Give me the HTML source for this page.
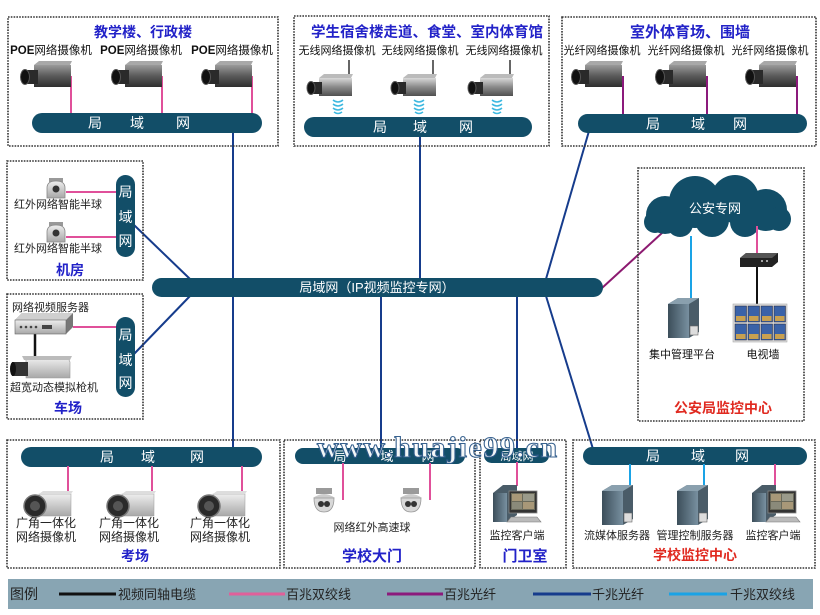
<!DOCTYPE html>
<html><head><meta charset="utf-8"><style>
html,body{margin:0;padding:0;background:#fff;}
svg{display:block;}
text{font-family:"Liberation Sans","Noto Sans CJK SC",sans-serif;}
.t{font-size:15px;font-weight:bold;fill:#2222c8;text-anchor:middle;}
.r{font-size:14px;font-weight:bold;fill:#e02a20;text-anchor:middle;}
.l{font-size:11px;fill:#222;text-anchor:middle;}
.lb{font-size:11px;fill:#111;text-anchor:middle;}
.p{font-size:14px;fill:#fff;text-anchor:middle;}
.box{fill:none;stroke:#333;stroke-width:1.6;stroke-dasharray:1.6 1.2;}
.lg{font-size:13px;fill:#222;}
</style></head><body>
<svg width="820" height="615" viewBox="0 0 820 615" xmlns="http://www.w3.org/2000/svg">
<defs>
<linearGradient id="gD" x1="0" y1="0" x2="0" y2="1"><stop offset="0" stop-color="#9a9a9a"/><stop offset="0.5" stop-color="#5a5a5a"/><stop offset="1" stop-color="#2e2e2e"/></linearGradient>
<linearGradient id="gS" x1="0" y1="0" x2="0" y2="1"><stop offset="0" stop-color="#d8d8d8"/><stop offset="0.5" stop-color="#8a8a8a"/><stop offset="1" stop-color="#505050"/></linearGradient>
<linearGradient id="gL" x1="0" y1="0" x2="0" y2="1"><stop offset="0" stop-color="#eeeeee"/><stop offset="1" stop-color="#a8a8a8"/></linearGradient>
<linearGradient id="gT" x1="0" y1="0" x2="1" y2="0"><stop offset="0" stop-color="#3c4e5a"/><stop offset="1" stop-color="#7890a0"/></linearGradient>
<g id="boxcam">
 <polygon points="15,4 20,0 53,0 51,4" fill="#a8a8a8"/>
 <rect x="15" y="4" width="37" height="22" fill="url(#gD)"/>
 <rect x="5" y="9" width="14" height="14" fill="#2a2a2a"/>
 <ellipse cx="6" cy="16" rx="4.5" ry="7.5" fill="#111" stroke="#555" stroke-width="1"/>
</g>
<g id="wcam">
 <line x1="43" y1="0" x2="43" y2="18" stroke="#333" stroke-width="1.5"/>
 <polygon points="13,18 18,14 47,14 45,18" fill="#bbb"/>
 <rect x="13" y="18" width="33" height="18" fill="url(#gS)"/>
 <rect x="4" y="22" width="12" height="12" fill="#2a2a2a"/>
 <ellipse cx="5" cy="28" rx="4" ry="6.5" fill="#111" stroke="#555"/>
</g>
<g id="waves" fill="none" stroke="#3cb8e0" stroke-width="1.5">
 <path d="M-5,0 Q0,4 5,0"/><path d="M-5,4 Q0,8 5,4"/><path d="M-5,8 Q0,12 5,8"/><path d="M-4,12 Q0,15 4,12"/>
</g>
<g id="wcam2">
 <rect x="16" y="3" width="32" height="22" fill="url(#gL)" stroke="#999" stroke-width="0.5"/>
 <polygon points="16,3 20,0 50,0 48,3" fill="#ddd"/>
 <circle cx="12" cy="15" r="11" fill="#2a2a2a" stroke="#777" stroke-width="1.5"/>
 <circle cx="12" cy="15" r="5" fill="#555"/>
</g>
<g id="half">
 <rect x="4" y="0" width="14" height="4" fill="#999"/>
 <path d="M2,20 L2,10 Q2,3 11,3 Q20,3 20,10 L20,20 Z" fill="url(#gL)" stroke="#888" stroke-width="0.8"/>
 <circle cx="11" cy="11" r="3.5" fill="#333"/>
</g>
<g id="dome">
 <rect x="3" y="0" width="16" height="6" fill="#9a9a9a"/>
 <path d="M0,10 Q11,2 22,10 Z" fill="#ccc"/>
 <path d="M1,10 L21,10 Q21,24 11,24 Q1,24 1,10 Z" fill="#d8d8d8" stroke="#999" stroke-width="0.8"/>
 <circle cx="8" cy="16" r="3" fill="#333"/><circle cx="14" cy="16" r="3" fill="#333"/>
</g>
<g id="srv">
 <polygon points="0,6 10,0 31,0 31,34 21,40 0,40" fill="#4a5c68"/>
 <polygon points="0,6 10,0 31,0 21,6" fill="#8aa0ae"/>
 <rect x="0" y="6" width="21" height="34" fill="url(#gT)"/>
 <rect x="22" y="28" width="8" height="9" fill="#ddd" stroke="#666" stroke-width="0.6"/>
</g>
<g id="pc">
 <polygon points="0,8 10,0 24,0 24,30 14,37 0,37" fill="#4a5c68"/>
 <rect x="0" y="8" width="14" height="29" fill="url(#gT)"/>
 <rect x="16" y="6" width="28" height="22" fill="#333" stroke="#888" stroke-width="0.8"/>
 <rect x="18" y="8" width="24" height="17" fill="#6a6a5a"/>
 <rect x="19" y="9" width="10" height="7" fill="#a89878"/><rect x="30" y="9" width="11" height="7" fill="#9a9a8a"/>
 <rect x="19" y="17" width="10" height="7" fill="#8a8a7a"/><rect x="30" y="17" width="11" height="7" fill="#a89878"/>
 <polygon points="18,32 44,32 48,37 14,37" fill="#bbb" stroke="#777" stroke-width="0.6"/>
</g>
</defs>

<rect width="820" height="615" fill="#fff"/>

<!-- main network lines -->
<g stroke="#163c8c" stroke-width="2" fill="none">
 <line x1="233" y1="132" x2="233" y2="448"/>
 <line x1="420" y1="136" x2="420" y2="279"/>
 <line x1="589" y1="131" x2="546" y2="279"/>
 <line x1="546" y1="296" x2="593" y2="449"/>
 <line x1="381" y1="296" x2="381" y2="449"/>
 <line x1="517" y1="296" x2="517" y2="449"/>
 <line x1="134" y1="225" x2="190" y2="279"/>
 <line x1="190" y1="296" x2="134" y2="354"/>
</g>
<line x1="602" y1="288" x2="674" y2="222" stroke="#8c1a70" stroke-width="2"/>

<!-- ===== top-left panel ===== -->
<rect class="box" x="8" y="17" width="270" height="129"/>
<text class="t" x="143" y="37" style="font-size:14px">教学楼、行政楼</text>
<text x="51" y="54" style="font-size:11.5px;fill:#111;text-anchor:middle"><tspan font-weight="bold">POE</tspan>网络摄像机</text>
<text x="141" y="54" style="font-size:11.5px;fill:#111;text-anchor:middle"><tspan font-weight="bold">POE</tspan>网络摄像机</text>
<text x="232" y="54" style="font-size:11.5px;fill:#111;text-anchor:middle"><tspan font-weight="bold">POE</tspan>网络摄像机</text>
<g stroke="#e0509a" stroke-width="2"><line x1="71" y1="76" x2="71" y2="114"/><line x1="162" y1="76" x2="162" y2="114"/><line x1="252" y1="76" x2="252" y2="114"/></g>
<use href="#boxcam" x="19" y="61"/><use href="#boxcam" x="110" y="61"/><use href="#boxcam" x="200" y="61"/>
<rect x="32" y="113" width="230" height="20" rx="10" fill="#124e68"/>
<text class="p" x="95" y="128">局</text><text class="p" x="137" y="128">域</text><text class="p" x="183" y="128">网</text>

<!-- ===== top-middle panel ===== -->
<rect class="box" x="294" y="16" width="255" height="130"/>
<text class="t" x="427" y="37" style="font-size:14.5px">学生宿舍楼走道、食堂、室内体育馆</text>
<text class="lb" x="337" y="54">无线网络摄像机</text>
<text class="lb" x="420" y="54">无线网络摄像机</text>
<text class="lb" x="504" y="54">无线网络摄像机</text>
<use href="#wcam" x="306" y="60"/><use href="#wcam" x="390" y="60"/><use href="#wcam" x="467" y="60"/>
<use href="#waves" x="338" y="100"/><use href="#waves" x="419" y="100"/><use href="#waves" x="497" y="100"/>
<rect x="304" y="117" width="228" height="20" rx="10" fill="#124e68"/>
<text class="p" x="380" y="132">局</text><text class="p" x="420" y="132">域</text><text class="p" x="466" y="132">网</text>

<!-- ===== top-right panel ===== -->
<rect class="box" x="562" y="17" width="254" height="129"/>
<text class="t" x="690" y="37">室外体育场、围墙</text>
<text class="lb" x="602" y="54">光纤网络摄像机</text>
<text class="lb" x="686" y="54">光纤网络摄像机</text>
<text class="lb" x="770" y="54">光纤网络摄像机</text>
<g stroke="#8c1a7c" stroke-width="2"><line x1="623" y1="76" x2="623" y2="115"/><line x1="707" y1="76" x2="707" y2="115"/><line x1="797" y1="76" x2="797" y2="115"/></g>
<use href="#boxcam" x="570" y="61"/><use href="#boxcam" x="654" y="61"/><use href="#boxcam" x="744" y="61"/>
<rect x="578" y="114" width="229" height="19" rx="9.5" fill="#124e68"/>
<text class="p" x="653" y="129">局</text><text class="p" x="698" y="129">域</text><text class="p" x="740" y="129">网</text>

<!-- ===== 机房 ===== -->
<rect class="box" x="7" y="161" width="136" height="119"/>
<g stroke="#e0509a" stroke-width="2"><line x1="66" y1="192" x2="117" y2="192"/><line x1="66" y1="237" x2="117" y2="237"/></g>
<use href="#half" x="45" y="178"/><use href="#half" x="45" y="222"/>
<text x="14" y="208" style="font-size:11px;fill:#222">红外网络智能半球</text>
<text x="14" y="252" style="font-size:11px;fill:#222">红外网络智能半球</text>
<text x="70" y="275" style="font-size:14px;font-weight:bold;fill:#2222c8;text-anchor:middle">机房</text>
<rect x="116" y="175" width="19" height="82" rx="9.5" fill="#124e68"/>
<text class="p" x="125.5" y="197">局</text><text class="p" x="125.5" y="222">域</text><text class="p" x="125.5" y="246">网</text>

<!-- ===== 车场 ===== -->
<rect class="box" x="7" y="294" width="136" height="125"/>
<text x="12" y="311" style="font-size:11px;fill:#222">网络视频服务器</text>
<line x1="73" y1="327" x2="117" y2="327" stroke="#e0509a" stroke-width="2"/>
<line x1="35" y1="332" x2="35" y2="360" stroke="#111" stroke-width="2.5"/>
<polygon points="15,320 22,313 73,313 73,327 66,334 15,334" fill="#777"/>
<polygon points="15,320 22,313 73,313 66,320" fill="#cfcfcf"/>
<rect x="15" y="320" width="51" height="14" fill="url(#gL)" stroke="#666" stroke-width="0.6"/>
<g fill="#444"><circle cx="21" cy="327" r="1.3"/><circle cx="26" cy="327" r="1.3"/><circle cx="31" cy="327" r="1.3"/><circle cx="36" cy="327" r="1.3"/><rect x="42" y="325" width="10" height="4"/></g>
<path d="M26,358 L68,358 L70,362 L70,378 L26,378 Z" fill="url(#gL)" stroke="#999" stroke-width="0.6"/>
<path d="M22,356 L72,356 L70,360 L24,360 Z" fill="#bbb"/>
<rect x="12" y="362" width="16" height="14" fill="#333"/>
<ellipse cx="13" cy="369" rx="3" ry="7" fill="#111"/>
<text x="10" y="391" style="font-size:11px;fill:#222">超宽动态模拟枪机</text>
<text x="68" y="413" style="font-size:14px;font-weight:bold;fill:#2222c8;text-anchor:middle">车场</text>
<rect x="116" y="317" width="19" height="80" rx="9.5" fill="#124e68"/>
<text class="p" x="125.5" y="340">局</text><text class="p" x="125.5" y="365">域</text><text class="p" x="125.5" y="388">网</text>

<!-- ===== main bus ===== -->
<rect x="152" y="278" width="451" height="19" rx="9.5" fill="#124e68"/>
<text x="377" y="292" style="font-size:13px;fill:#fff;text-anchor:middle">局域网（IP视频监控专网）</text>

<!-- ===== 公安局监控中心 ===== -->
<rect class="box" x="638" y="168" width="166" height="253"/>
<g fill="#124e68">
 <circle cx="665" cy="215" r="19"/><circle cx="695" cy="202" r="26"/><circle cx="735" cy="199" r="24"/><circle cx="766" cy="210" r="21"/>
 <circle cx="712" cy="220" r="17"/><circle cx="745" cy="222" r="15"/><circle cx="680" cy="224" r="13"/><circle cx="779" cy="219" r="12"/><circle cx="655" cy="222" r="11"/>
</g>
<text x="715" y="213" style="font-size:13px;fill:#fff;text-anchor:middle">公安专网</text>
<line x1="691" y1="236" x2="691" y2="298" stroke="#1aa3e6" stroke-width="2"/>
<line x1="757" y1="226" x2="757" y2="254" stroke="#e0509a" stroke-width="2"/>
<line x1="757" y1="266" x2="757" y2="305" stroke="#111" stroke-width="2"/>
<use href="#srv" x="668" y="298"/>
<polygon points="740,258 746,253 778,253 778,262 772,267 740,267" fill="#222"/>
<polygon points="740,258 746,253 778,253 772,258" fill="#555"/>
<circle cx="762" cy="261" r="1" fill="#ccc"/><circle cx="767" cy="261" r="1" fill="#ccc"/>
<rect x="733" y="304" width="54" height="38" fill="#ddd" stroke="#aaa" stroke-width="0.6"/>
<g fill="#3a62a8" stroke="#223" stroke-width="0.5">
 <rect x="735" y="306" width="11.5" height="16"/><rect x="748" y="306" width="11.5" height="16"/><rect x="761" y="306" width="11.5" height="16"/><rect x="774" y="306" width="11.5" height="16"/>
 <rect x="735" y="324" width="11.5" height="16"/><rect x="748" y="324" width="11.5" height="16"/><rect x="761" y="324" width="11.5" height="16"/><rect x="774" y="324" width="11.5" height="16"/>
</g>
<g fill="#c8a050"><rect x="736" y="316" width="9.5" height="5"/><rect x="749" y="316" width="9.5" height="5"/><rect x="762" y="316" width="9.5" height="5"/><rect x="775" y="316" width="9.5" height="5"/><rect x="736" y="334" width="9.5" height="5"/><rect x="749" y="334" width="9.5" height="5"/><rect x="762" y="334" width="9.5" height="5"/><rect x="775" y="334" width="9.5" height="5"/></g>
<text class="lb" x="682" y="358">集中管理平台</text>
<text class="lb" x="763" y="358">电视墙</text>
<text class="r" x="723" y="413">公安局监控中心</text>

<!-- ===== 考场 ===== -->
<rect class="box" x="7" y="440" width="273" height="128"/>
<rect x="21" y="447" width="241" height="20" rx="10" fill="#124e68"/>
<text class="p" x="107" y="462">局</text><text class="p" x="148" y="462">域</text><text class="p" x="197" y="462">网</text>
<g stroke="#e0509a" stroke-width="2"><line x1="68" y1="466" x2="68" y2="493"/><line x1="152" y1="466" x2="152" y2="493"/><line x1="242" y1="466" x2="242" y2="493"/></g>
<use href="#wcam2" x="23" y="491"/><use href="#wcam2" x="106" y="491"/><use href="#wcam2" x="197" y="491"/>
<text x="46" y="527" style="font-size:12px;fill:#222;text-anchor:middle">广角一体化</text>
<text x="46" y="541" style="font-size:12px;fill:#222;text-anchor:middle">网络摄像机</text>
<text x="129" y="527" style="font-size:12px;fill:#222;text-anchor:middle">广角一体化</text>
<text x="129" y="541" style="font-size:12px;fill:#222;text-anchor:middle">网络摄像机</text>
<text x="220" y="527" style="font-size:12px;fill:#222;text-anchor:middle">广角一体化</text>
<text x="220" y="541" style="font-size:12px;fill:#222;text-anchor:middle">网络摄像机</text>
<text x="135" y="561" style="font-size:14px;font-weight:bold;fill:#2222c8;text-anchor:middle">考场</text>

<!-- ===== 学校大门 ===== -->
<rect class="box" x="284" y="440" width="191" height="128"/>
<rect x="295" y="448" width="170" height="16" rx="8" fill="#124e68"/>
<text x="340" y="461" style="font-size:13px;fill:#fff;text-anchor:middle">局</text>
<text x="387" y="461" style="font-size:13px;fill:#fff;text-anchor:middle">域</text>
<text x="428" y="461" style="font-size:13px;fill:#fff;text-anchor:middle">网</text>
<g stroke="#e0509a" stroke-width="2"><line x1="343" y1="463" x2="343" y2="500"/><line x1="430" y1="463" x2="430" y2="500"/></g>
<use href="#dome" x="313" y="488"/><use href="#dome" x="400" y="488"/>
<text class="l" x="372" y="531">网络红外高速球</text>
<text x="372" y="561" style="font-size:15px;font-weight:bold;fill:#2222c8;text-anchor:middle">学校大门</text>

<!-- ===== 门卫室 ===== -->
<rect class="box" x="480" y="440" width="86" height="128"/>
<rect x="484" y="448" width="65" height="15" rx="7.5" fill="#124e68"/>
<text x="517" y="460" style="font-size:11px;fill:#fff;text-anchor:middle">局域网</text>
<line x1="517" y1="462" x2="517" y2="486" stroke="#e0509a" stroke-width="2"/>
<use href="#pc" x="493" y="485"/>
<text class="l" x="517" y="539">监控客户端</text>
<text x="525" y="561" style="font-size:15px;font-weight:bold;fill:#2222c8;text-anchor:middle">门卫室</text>

<!-- ===== 学校监控中心 ===== -->
<rect class="box" x="573" y="440" width="242" height="128"/>
<rect x="583" y="447" width="224" height="18" rx="9" fill="#124e68"/>
<text class="p" x="653" y="461">局</text><text class="p" x="698" y="461">域</text><text class="p" x="742" y="461">网</text>
<g stroke="#1aa3e6" stroke-width="2"><line x1="630" y1="464" x2="630" y2="487"/><line x1="704" y1="464" x2="704" y2="487"/></g>
<line x1="775" y1="464" x2="775" y2="488" stroke="#e0509a" stroke-width="2"/>
<use href="#srv" x="602" y="485"/><use href="#srv" x="677" y="485"/>
<use href="#pc" x="752" y="485"/>
<text class="l" x="617" y="539">流媒体服务器</text>
<text class="l" x="695" y="539">管理控制服务器</text>
<text class="l" x="773" y="539">监控客户端</text>
<text class="r" x="695" y="560">学校监控中心</text>

<!-- watermark -->
<text x="317" y="457" textLength="240" lengthAdjust="spacing" style="font-family:'Liberation Serif',serif;font-size:30px;font-weight:bold;fill:#fff;stroke:#2e5a8a;stroke-width:1.1;opacity:0.95">www.huajie99.cn</text>

<!-- legend -->
<rect x="8" y="579" width="805" height="30" fill="#88a5b3"/>
<text x="10" y="599" style="font-size:14px;fill:#222">图例</text>
<line x1="59" y1="594" x2="116" y2="594" stroke="#111" stroke-width="3"/>
<text class="lg" x="118" y="599">视频同轴电缆</text>
<line x1="229" y1="594" x2="285" y2="594" stroke="#e0609a" stroke-width="3"/>
<text class="lg" x="286" y="599">百兆双绞线</text>
<line x1="387" y1="594" x2="443" y2="594" stroke="#8c1a7c" stroke-width="3"/>
<text class="lg" x="444" y="599">百兆光纤</text>
<line x1="533" y1="594" x2="591" y2="594" stroke="#163c8c" stroke-width="3"/>
<text class="lg" x="592" y="599">千兆光纤</text>
<line x1="669" y1="594" x2="727" y2="594" stroke="#1aa3e6" stroke-width="3"/>
<text class="lg" x="730" y="599">千兆双绞线</text>
</svg>
</body></html>
